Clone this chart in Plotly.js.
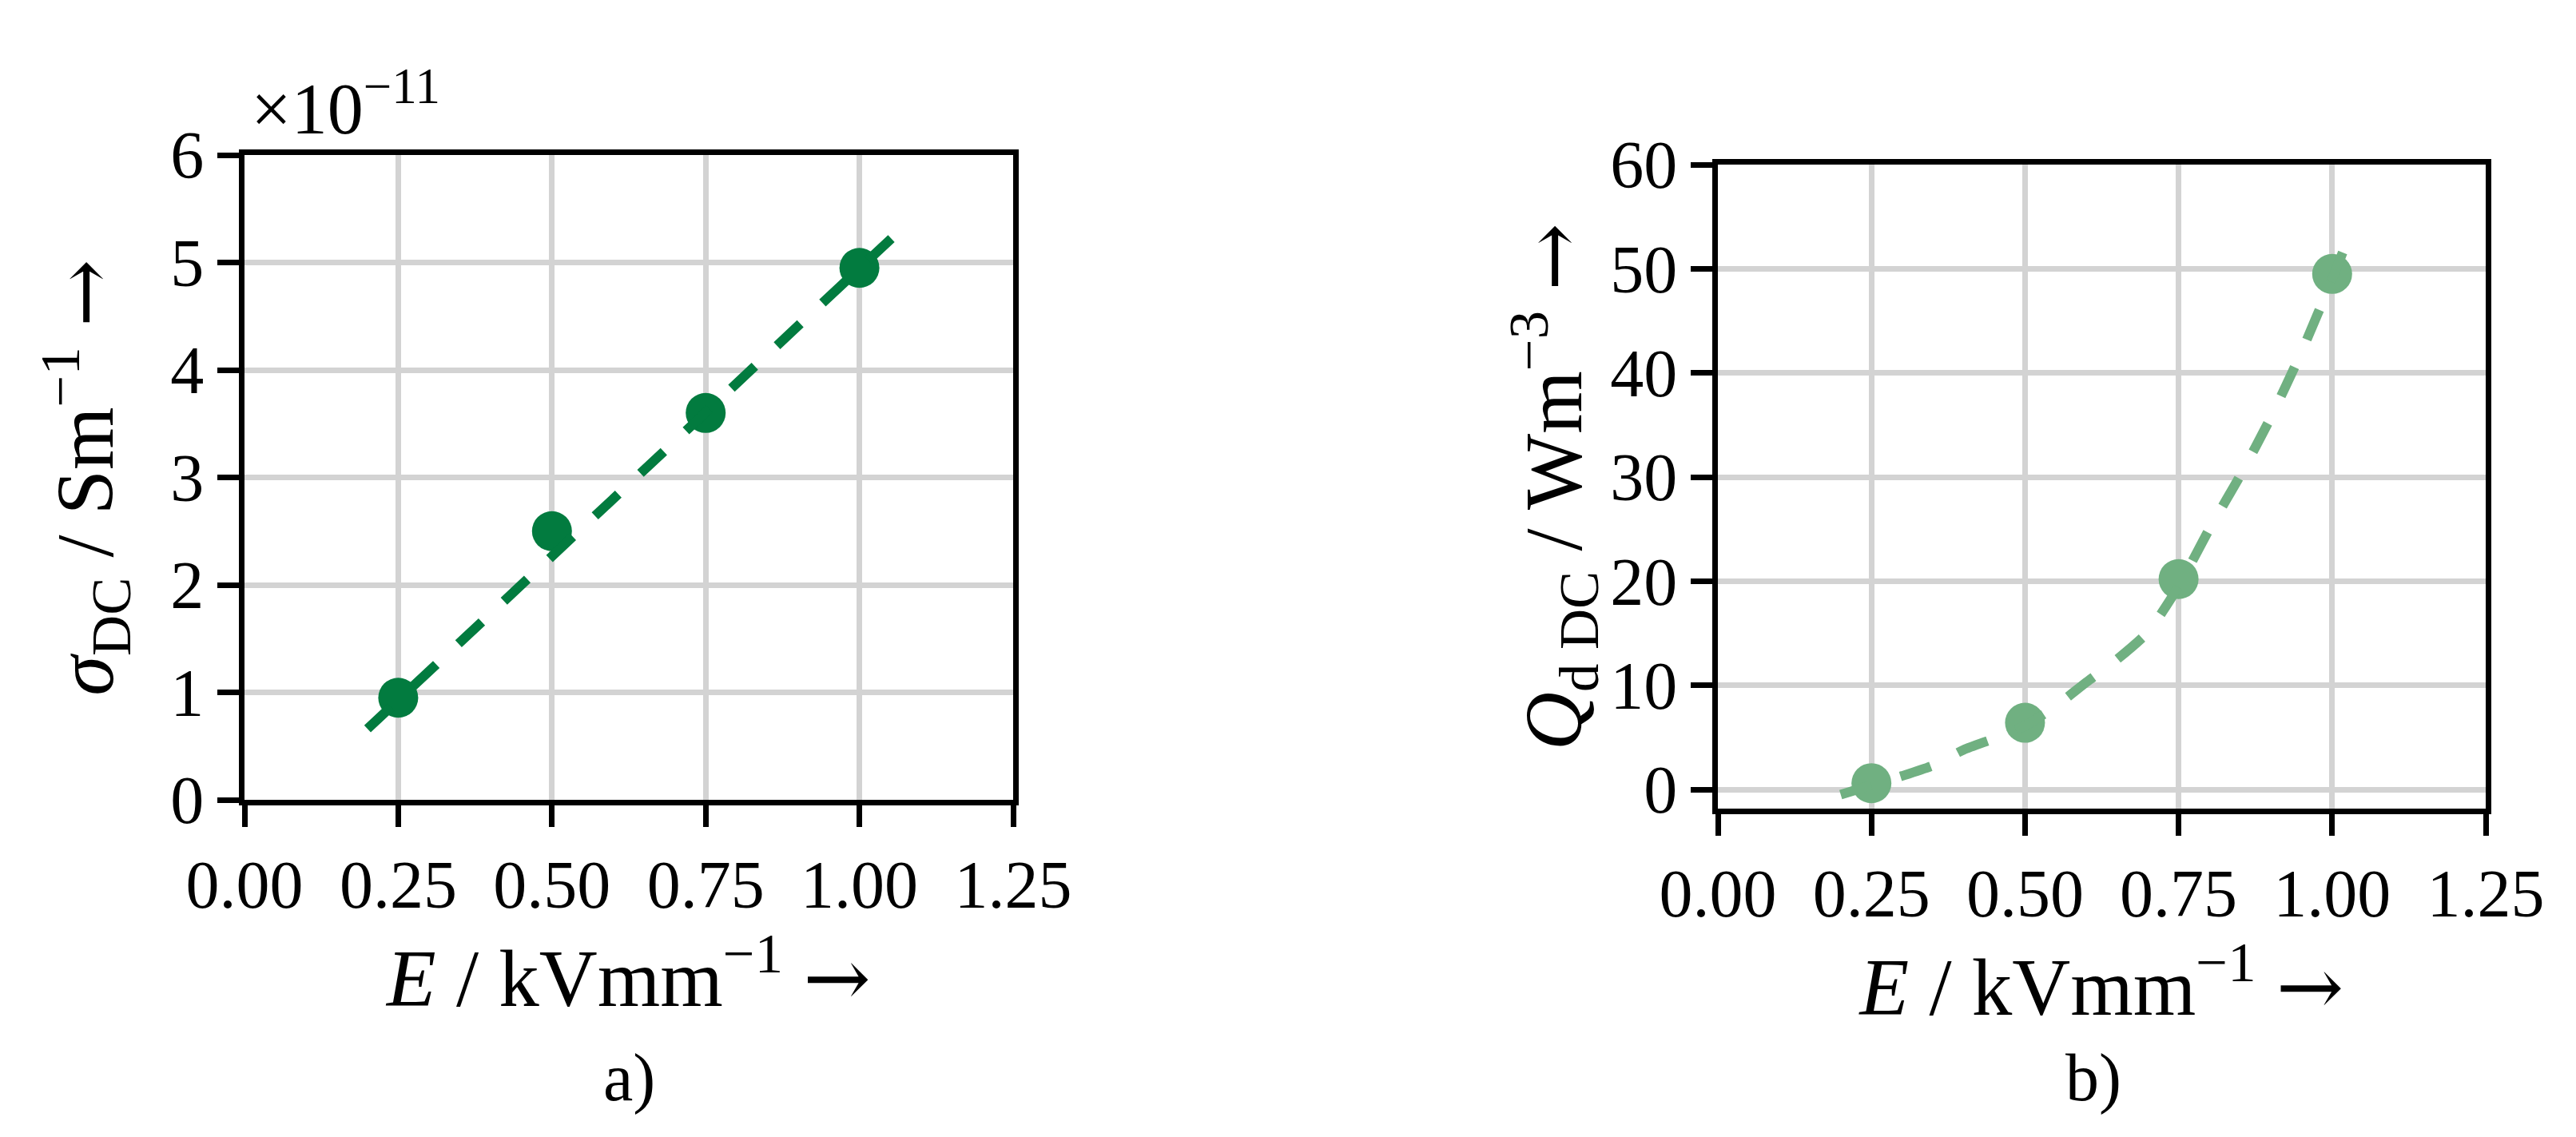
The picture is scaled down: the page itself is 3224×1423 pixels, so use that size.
<!DOCTYPE html>
<html>
<head>
<meta charset="utf-8">
<script src="https://cdn.plot.ly/plotly-3.0.1.min.js"></script>
<style>
  html, body { margin: 0; padding: 0; background: #fff; }
</style>
</head>
<body>
<div id="tester" style="width:3224px;height:1423px;"></div>
<script>
myDiv = document.getElementById('tester')

// field strength, kV/mm
var E = [0.25, 0.5, 0.75, 1.0];
// a) DC conductivity, in units of 1e-11 S/m
var sigmaDC = [0.95, 2.5, 3.6, 4.95];
// linear fit, end points
var sigmaFitX = [0.2, 1.057];
var sigmaFitY = [0.66, 5.25];

// b) dissipated power density, W/m^3
var QdDC = [0.6, 6.4, 20.2, 49.5];
var qFitX = [0.20, 0.25, 0.30, 0.35, 0.40, 0.45, 0.50, 0.55, 0.60, 0.65, 0.70, 0.75, 0.80, 0.85, 0.90, 0.95, 1.00, 1.022];
var qFitY = [-0.5, 0.4, 1.3, 2.3, 3.8, 4.9, 6.1, 8.0, 10.3, 12.5, 15.1, 19.5, 25.0, 30.1, 35.7, 42.0, 49.0, 52.3];

var xTicks = [0, 0.25, 0.5, 0.75, 1.0, 1.25];

var darkGreen = '#027b3f';
var lightGreen = '#70b081';

var trace1 = {
  x: E, y: sigmaDC, xaxis: 'x', yaxis: 'y',
  mode: 'markers', type: 'scatter',
  marker: {color: darkGreen, size: 50, line: {width: 0}}
};
var trace2 = {
  x: sigmaFitX, y: sigmaFitY, xaxis: 'x', yaxis: 'y',
  mode: 'lines', type: 'scatter',
  line: {color: darkGreen, width: 12, dash: '40px,38px'}
};
var trace3 = {
  x: E, y: QdDC, xaxis: 'x2', yaxis: 'y2',
  mode: 'markers', type: 'scatter',
  marker: {color: lightGreen, size: 50, line: {width: 0}}
};
var trace4 = {
  x: qFitX, y: qFitY, xaxis: 'x2', yaxis: 'y2',
  mode: 'lines', type: 'scatter',
  line: {color: lightGreen, width: 12, dash: '40px,38px', shape: 'spline', smoothing: 0.6}
};
var data = [trace1, trace2, trace3, trace4];

function axisStyle(extra) {
  var ax = {
    ticks: 'outside', ticklen: 27, tickwidth: 7, tickcolor: '#000',
    showline: true, linewidth: 7, linecolor: '#000', mirror: true,
    showgrid: true, gridcolor: '#d3d3d3', gridwidth: 7,
    zeroline: false, automargin: false
  };
  for (var k in extra) ax[k] = extra[k];
  return ax;
}

// bigger arrow, closer to the LaTeX look
var arrow = ' <span style="font-family:\'DejaVu Serif\'">\u2192</span>';
function sup(s) { return '<sup>' + s + '</sup>'; }

var xTitle = '<i>E</i> / kVmm' + sup('\u22121') + arrow;

var layout = {
  width: 3224, height: 1423,
  margin: {l: 0, r: 0, t: 0, b: 0},
  paper_bgcolor: '#fff', plot_bgcolor: '#fff',
  showlegend: false,
  font: {family: 'Liberation Serif, serif', size: 84, color: '#000'},
  xaxis: axisStyle({
    domain: [306 / 3224, 1268 / 3224], anchor: 'y',
    range: [0, 1.25], tickvals: xTicks, tickformat: '.2f',
    title: {text: xTitle, standoff: 26}
  }),
  yaxis: axisStyle({
    domain: [(1423 - 1001) / 1423, (1423 - 194) / 1423], anchor: 'x',
    range: [0, 6], tick0: 0, dtick: 1,
    title: {text: '<i>\u03c3</i><sub>DC</sub> / Sm' + sup('\u22121') + arrow, standoff: 40}
  }),
  xaxis2: axisStyle({
    domain: [2150 / 3224, 3111 / 3224], anchor: 'y2',
    range: [0, 1.25], tickvals: xTicks, tickformat: '.2f',
    title: {text: xTitle, standoff: 26}
  }),
  yaxis2: axisStyle({
    domain: [(1423 - 1012) / 1423, (1423 - 206) / 1423], anchor: 'x2',
    range: [-1.84, 60], tick0: 0, dtick: 10,
    title: {text: '<i>Q</i><sub>d DC</sub> / Wm' + sup('\u22123') + arrow, standoff: 0}
  }),
  annotations: [
    {text: '\u00d710' + sup('\u221211'), xref: 'x domain', yref: 'y domain', x: 0, y: 1,
     xanchor: 'left', yanchor: 'bottom', xshift: 6, yshift: 6, showarrow: false,
     font: {size: 90}},
    {text: 'a)', xref: 'paper', yref: 'paper', x: 787 / 3224, y: 74 / 1423,
     xanchor: 'center', yanchor: 'middle', showarrow: false},
    {text: 'b)', xref: 'paper', yref: 'paper', x: 2620 / 3224, y: 74 / 1423,
     xanchor: 'center', yanchor: 'middle', showarrow: false}
  ]
};

Plotly.newPlot(myDiv, data, layout, {displayModeBar: false});
</script>
</body>
</html>
